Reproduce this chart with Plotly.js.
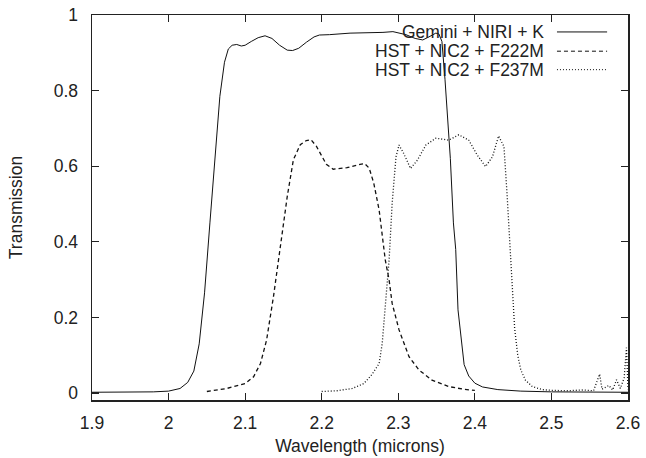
<!DOCTYPE html>
<html>
<head>
<meta charset="utf-8">
<script src="https://cdn.plot.ly/plotly-3.0.1.min.js"></script>
<style>html,body{margin:0;padding:0;background:#fff;}#chart{width:646px;height:458px;}</style>
</head>
<body>
<div id="chart"></div>
<script>
// Gemini + NIRI + K
const geminiX = [1.90,1.95,1.98,2.00,2.015,2.025,2.033,2.040,2.047,2.054,2.061,2.067,2.073,2.078,2.083,2.089,2.095,2.100,2.108,2.117,2.126,2.135,2.145,2.155,2.162,2.170,2.180,2.190,2.197,2.210,2.237,2.260,2.280,2.293,2.310,2.322,2.332,2.340,2.349,2.353,2.357,2.361,2.365,2.368,2.372,2.375,2.378,2.382,2.386,2.392,2.400,2.410,2.430,2.460,2.500,2.600];
const geminiY = [0.002,0.002,0.003,0.005,0.012,0.028,0.058,0.13,0.265,0.45,0.63,0.785,0.875,0.91,0.92,0.922,0.918,0.92,0.93,0.94,0.945,0.938,0.92,0.907,0.906,0.912,0.928,0.942,0.947,0.948,0.952,0.952,0.954,0.956,0.948,0.938,0.934,0.942,0.952,0.95,0.93,0.83,0.72,0.62,0.45,0.38,0.22,0.15,0.075,0.045,0.026,0.016,0.009,0.005,0.003,0.002];

// HST + NIC2 + F222M
const f222mX = [2.050,2.076,2.100,2.111,2.120,2.128,2.137,2.146,2.155,2.163,2.172,2.180,2.186,2.193,2.200,2.206,2.215,2.233,2.250,2.256,2.262,2.268,2.275,2.279,2.283,2.288,2.292,2.301,2.314,2.327,2.344,2.366,2.385,2.400];
const f222mY = [0.004,0.012,0.025,0.043,0.078,0.14,0.255,0.388,0.52,0.617,0.657,0.668,0.67,0.653,0.625,0.605,0.592,0.596,0.605,0.607,0.595,0.555,0.484,0.414,0.352,0.299,0.237,0.167,0.096,0.061,0.034,0.017,0.01,0.007];

// HST + NIC2 + F237M
const f237mX = [2.200,2.220,2.240,2.255,2.266,2.275,2.279,2.283,2.288,2.292,2.297,2.301,2.307,2.316,2.325,2.336,2.349,2.366,2.379,2.392,2.403,2.414,2.423,2.431,2.438,2.442,2.447,2.452,2.456,2.460,2.466,2.475,2.488,2.500,2.520,2.540,2.555,2.563,2.566,2.575,2.580,2.585,2.590,2.595,2.598,2.600];
const f237mY = [0.004,0.006,0.012,0.025,0.05,0.078,0.131,0.22,0.352,0.502,0.625,0.656,0.634,0.594,0.616,0.656,0.674,0.669,0.683,0.669,0.63,0.599,0.625,0.68,0.652,0.528,0.352,0.17,0.1,0.061,0.034,0.017,0.009,0.007,0.006,0.008,0.006,0.05,0.01,0.02,0.008,0.035,0.012,0.04,0.12,0.01];

const seriesNames = ["Gemini + NIRI + K", "HST + NIC2 + F222M", "HST + NIC2 + F237M"];
const seriesDash = ["solid", "4px,3px", "1px,2px"];
const xTicks = [1.9,2.0,2.1,2.2,2.3,2.4,2.5,2.6];
const yTicks = [0,0.2,0.4,0.6,0.8,1];

const font = {family: "Liberation Sans, Arial, sans-serif", size: 17.5, color: "#222"};

const traces = [
  {x: geminiX, y: geminiY, mode: "lines", line: {color: "#111", width: 1, dash: seriesDash[0]}, name: seriesNames[0]},
  {x: f222mX, y: f222mY, mode: "lines", line: {color: "#111", width: 1.3, dash: seriesDash[1]}, name: seriesNames[1]},
  {x: f237mX, y: f237mY, mode: "lines", line: {color: "#111", width: 1.3, dash: seriesDash[2]}, name: seriesNames[2]}
];

const legendRows = [0.956, 0.906, 0.858];
const annotations = seriesNames.map((n, i) => ({
  xref: "paper", yref: "paper", x: 0.847, y: legendRows[i], xanchor: "right", yanchor: "middle",
  text: n, showarrow: false, font: font
}));
const shapes = seriesNames.map((n, i) => ({
  type: "line", xref: "paper", yref: "paper", x0: 0.8675, x1: 0.961, y0: legendRows[i], y1: legendRows[i],
  line: {color: "#111", width: 1, dash: seriesDash[i]}
}));

const layout = {
  width: 646, height: 458,
  margin: {l: 92, r: 18, t: 15, b: 58},
  paper_bgcolor: "#fff", plot_bgcolor: "#fff",
  showlegend: false,
  font: font,
  xaxis: {
    range: [1.9, 2.6], tickvals: xTicks, ticks: "inside", ticklen: 7, tickwidth: 1.2, tickcolor: "#222",
    showline: true, linecolor: "#222", linewidth: 1.5, mirror: "ticks", showgrid: false, zeroline: false,
    title: {text: "Wavelength (microns)", font: font, standoff: 8}, ticklabelstandoff: 6
  },
  yaxis: {
    range: [-0.0185, 1], tickvals: yTicks, ticks: "inside", ticklen: 7, tickwidth: 1.2, tickcolor: "#222",
    showline: true, linecolor: "#222", linewidth: 1.5, mirror: "ticks", showgrid: false, zeroline: false,
    title: {text: "Transmission", font: font, standoff: 26}, ticklabelstandoff: 9
  },
  annotations: annotations,
  shapes: shapes
};

Plotly.newPlot("chart", traces, layout, {displayModeBar: false, staticPlot: true});
</script>
</body>
</html>
